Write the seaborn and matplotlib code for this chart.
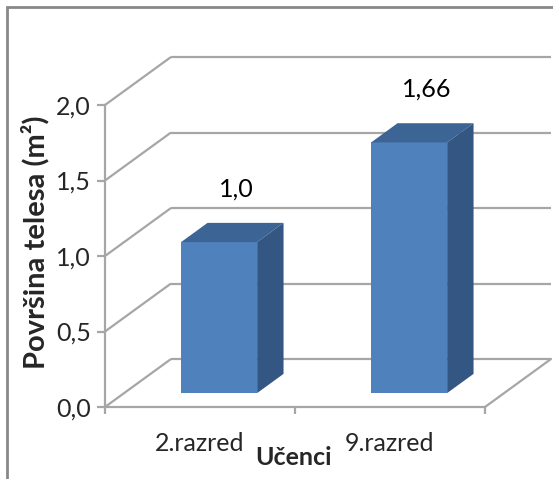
import matplotlib
matplotlib.use("Agg")
import matplotlib.pyplot as plt
from matplotlib.patches import Polygon, Rectangle
import seaborn as sns
import pandas as pd

# Data
categories = ["2.razred", "9.razred"]
values = [1.0, 1.66]
value_labels = ["1,0", "1,66"]
y_ticks = [0.0, 0.5, 1.0, 1.5, 2.0]
y_tick_labels = ["0,0", "0,5", "1,0", "1,5", "2,0"]

df = pd.DataFrame({"Učenci": categories, "Površina": values})

sns.set_theme(style="white")
plt.rcParams["font.family"] = ["Lato", "DejaVu Sans"]

W, H = 553, 479
fig = plt.figure(figsize=(W / 100, H / 100), dpi=100)
fig.patch.set_facecolor("white")

# Front plane of the 3D chart box (pixels)
x0, x1 = 105, 485
y0, y1 = 407, 105  # y of value 0 and of value 2.0
ax = fig.add_axes([x0 / W, (H - y0) / H, (x1 - x0) / W, (y0 - y1) / H])
ax.set_facecolor("none")

# Depth projection of the box, in data units
DX = 66 / ((x1 - x0) / 2)
DY = 48 / ((y0 - y1) / 2)
F_FRONT, F_BACK = 0.29, 0.69

FRONT = "#4F81BD"
TOP = "#3C6494"
SIDE = "#335682"
GRID = "#A6A6A6"
FS = 18

sns.barplot(data=df, x="Učenci", y="Površina", width=0.4, color=FRONT,
            saturation=1, ax=ax, zorder=3)

ax.set_xlim(-0.5, 1.5)
ax.set_ylim(0, 2.0)

# Walls: side-wall diagonals and back-wall gridlines
for v in y_ticks:
    ax.plot([-0.5, -0.5 + DX], [v, v + DY], color=GRID, lw=1.6,
            clip_on=False, zorder=1, solid_capstyle="butt")
    ax.plot([-0.5 + DX, 1.5 + DX], [v + DY, v + DY], color=GRID, lw=1.6,
            clip_on=False, zorder=1, solid_capstyle="butt")
# Floor right edge
ax.plot([1.5, 1.5 + DX], [0, DY], color=GRID, lw=1.6, clip_on=False, zorder=1)

# Turn flat bars into boxes sitting inside the floor depth
ox, oy = DX * F_FRONT, DY * F_FRONT
ddx, ddy = DX * (F_BACK - F_FRONT), DY * (F_BACK - F_FRONT)
for patch, v, lab in zip(ax.patches, values, value_labels):
    bx, bw, bh = patch.get_x(), patch.get_width(), patch.get_height()
    patch.set_x(bx + ox)
    patch.set_y(oy)
    patch.set_edgecolor("none")
    patch.set_clip_on(False)
    fx0, fx1 = bx + ox, bx + ox + bw
    fy0, fy1 = oy, oy + bh
    top = Polygon([(fx0, fy1), (fx1, fy1), (fx1 + ddx, fy1 + ddy), (fx0 + ddx, fy1 + ddy)],
                  closed=True, facecolor=TOP, edgecolor="none", zorder=4, clip_on=False)
    side = Polygon([(fx1, fy0), (fx1 + ddx, fy0 + ddy), (fx1 + ddx, fy1 + ddy), (fx1, fy1)],
                   closed=True, facecolor=SIDE, edgecolor="none", zorder=4, clip_on=False)
    ax.add_patch(top)
    ax.add_patch(side)
    ax.text(bx + bw / 2 + DX * 0.55, v + 0.445, lab, ha="center", va="center",
            fontsize=FS, color="black", clip_on=False)

# Axes styling
for s in ["top", "right"]:
    ax.spines[s].set_visible(False)
for s in ["left", "bottom"]:
    ax.spines[s].set_color(GRID)
    ax.spines[s].set_linewidth(1.6)
ax.set_yticks(y_ticks)
ax.set_yticklabels(y_tick_labels, fontsize=FS)
ax.set_xticks([0, 1])
ax.set_xticklabels(categories, fontsize=FS)
ax.set_xticks([-0.5, 0.5, 1.5], minor=True)
ax.tick_params(axis="y", which="major", left=True, length=6, width=1.6,
               color=GRID, pad=4)
ax.tick_params(axis="x", which="major", bottom=False, length=0, pad=18)
ax.tick_params(axis="x", which="minor", bottom=True, length=5, width=1.6, color=GRID)
ax.set_xlabel("Učenci", fontsize=FS, fontweight="bold")
ax.set_ylabel("Površina telesa (m²)", fontsize=21, fontweight="bold")
ax.yaxis.set_label_coords((49 - x0) / (x1 - x0), (y0 - 242) / (y0 - y1))
ax.xaxis.set_label_coords((294 - x0) / (x1 - x0), -(446 - y0) / (y0 - y1))

# Chart border
fig.patches.append(Rectangle((7 / W, -0.1), 1.2, (H - 7) / H + 0.1,
                             transform=fig.transFigure, fill=False,
                             edgecolor="#888888", linewidth=2, zorder=0))

fig.savefig("out.png", dpi=100)
